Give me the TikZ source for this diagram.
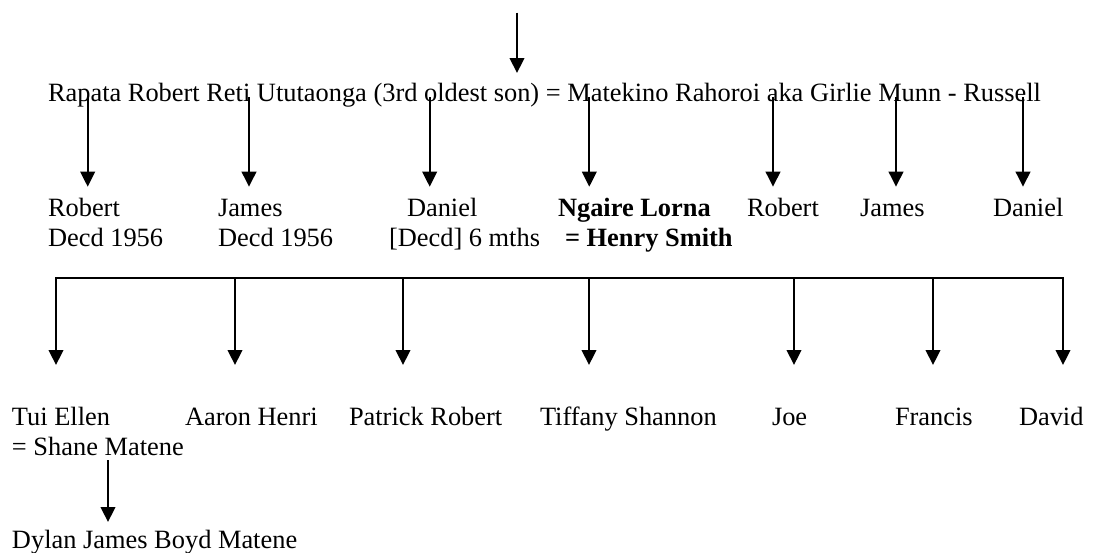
\documentclass[tikz,border=0pt]{standalone}
\usepackage{fontspec}
\setmainfont{Liberation Serif}
\usetikzlibrary{arrows.meta}
\begin{document}
\begin{tikzpicture}[x=1pt,y=-1pt,
  txt/.style={anchor=base west,inner sep=0pt,outer sep=0pt,font=\fontsize{26.4}{30}\selectfont},
  btxt/.style={txt,font=\fontsize{26.4}{30}\selectfont\bfseries},
  conn/.style={line width=2.2pt},
  arr/.style={conn,-{Triangle[length=15pt,width=14.5pt]}},
  bar/.style={conn,line cap=rect}]
\useasboundingbox (0,0) rectangle (1095,552);
% top arrow
\coordinate (top0) at (517,12.5);
\coordinate (top1) at (517,73);
\draw[arr] (top0) -- (top1);
% line 1
\node[txt] (parents) at (48,101) {Rapata Robert Reti Ututaonga (3rd oldest son) = Matekino Rahoroi aka Girlie Munn - Russell};
% children row
\node[txt] (c1) at (48,216.7) {Robert};
\node[txt] (c1b) at (48,246.7) {Decd 1956};
\node[txt] (c2) at (218,216.7) {James};
\node[txt] (c2b) at (218,246.7) {Decd 1956};
\node[txt] (c3) at (407,216.7) {Daniel};
\node[txt] (c3b) at (389,246.7) {[Decd] 6 mths};
\node[btxt] (c4) at (558,216.7) {Ngaire Lorna};
\node[btxt] (c4b) at (565,246.7) {= Henry Smith};
\node[txt] (c5) at (747,216.7) {Robert};
\node[txt] (c6) at (860,216.7) {James};
\node[txt] (c7) at (993,216.7) {Daniel};
\foreach \i/\x in {1/87.7,2/249,3/429.7,4/589.3,5/773,6/896,7/1023}{
  \coordinate (s\i) at (\x,97);
  \coordinate (e\i) at (\x,186.7);
  \draw[arr] (s\i) -- (e\i);
}
% grandchildren bar
\coordinate (barL) at (56,277.7);
\coordinate (barR) at (1063,277.7);
\draw[bar] (barL) -- (barR);
\foreach \i/\x in {1/56,2/235,3/403,4/589,5/794,6/933,7/1063}{
  \coordinate (g\i) at (\x,277.7);
  \coordinate (h\i) at (\x,365);
  \draw[arr] (g\i) -- (h\i);
}
\node[txt] (g1t) at (12,425) {Tui Ellen};
\node[txt] (g1b) at (12,455) {= Shane Matene};
\node[txt] (g2t) at (185,425) {Aaron Henri};
\node[txt] (g3t) at (349,425) {Patrick Robert};
\node[txt] (g4t) at (540,425) {Tiffany Shannon};
\node[txt] (g5t) at (772,425) {Joe};
\node[txt] (g6t) at (895,425) {Francis};
\node[txt] (g7t) at (1019,425) {David};
% great-grandchild
\coordinate (d0) at (108,460);
\coordinate (d1) at (108,522);
\draw[arr] (d0) -- (d1);
\node[txt] (dylan) at (12,548) {Dylan James Boyd Matene};
\end{tikzpicture}
\end{document}
